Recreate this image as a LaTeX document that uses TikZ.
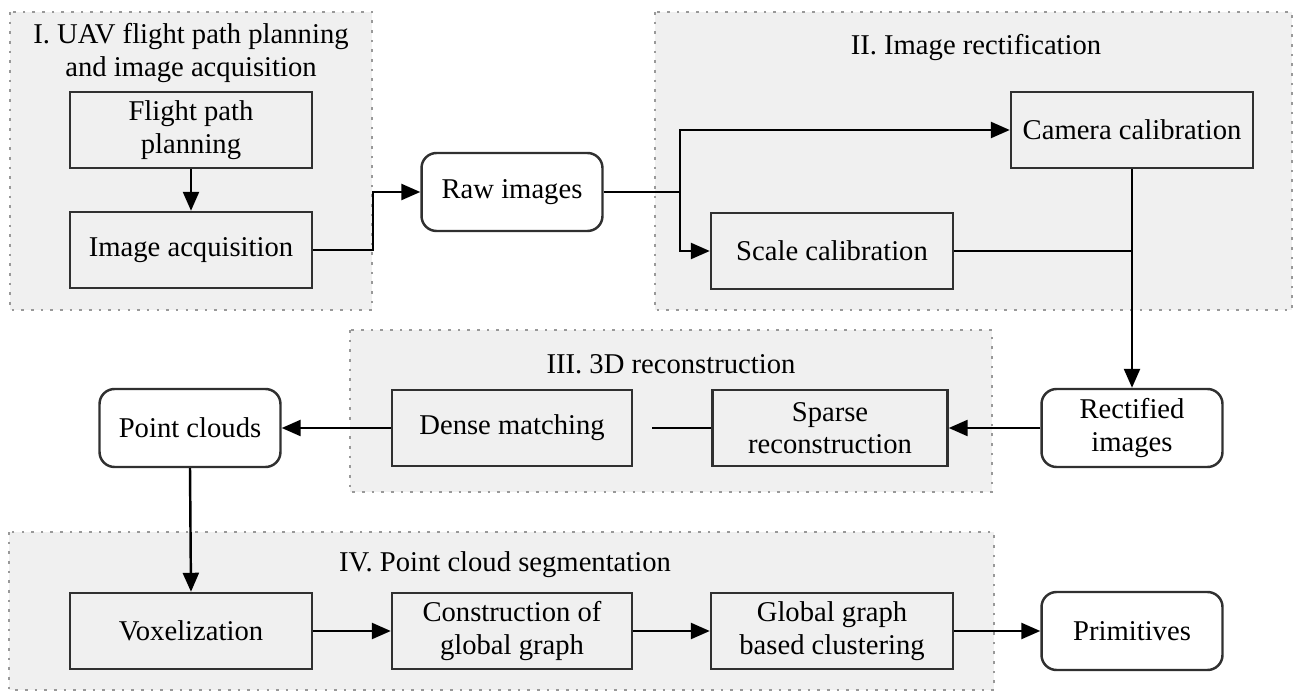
\documentclass[tikz,border=0pt]{standalone}
\usepackage{fontspec}
\setmainfont{Liberation Serif}
\usepackage{tikz}
\usetikzlibrary{arrows.meta, positioning, shapes.misc}

\definecolor{grpfill}{HTML}{F0F0F0}
\definecolor{boxline}{HTML}{303030}

\begin{document}
\begin{tikzpicture}[
      x=0.02cm, y=-0.02cm,
      font=\fontsize{16.3}{18.5}\selectfont,
      group/.style={draw=gray!80, fill=grpfill, line width=1.5pt, dash pattern=on 1.5pt off 4pt},
      stage/.style={draw=boxline, fill=grpfill, line width=1.4pt, minimum width=4.84cm, minimum height=1.52cm, align=center, inner sep=2pt},
      data/.style={draw=boxline, fill=white, line width=1.4pt, rounded corners=0.3cm, minimum width=3.62cm, minimum height=1.56cm, align=center, inner sep=2pt},
      title/.style={align=center},
      link/.style={draw=black, line width=1.4pt},
      arr/.style={link, -{Triangle[length=0.38cm, width=0.32cm]}}
    ]
      \useasboundingbox (0,0) rectangle (1301,695);

      % Stage frames
      \draw[group] (10,12) rectangle (372,310);
      \draw[group] (655,12) rectangle (1292,310);
      \draw[group] (350,330) rectangle (992,492);
      \draw[group] (9,532) rectangle (994,690);

      % Stage titles
      \node[title] (t1) at (191,53) {I. UAV flight path planning\\and image acquisition};
      \node[title] (t2) at (976,48) {II. Image rectification};
      \node[title] (t3) at (671,364) {III. 3D reconstruction};
      \node[title] (t4) at (505,565) {IV. Point cloud segmentation};

      % Stage I
      \node[stage] (flight) at (191,130) {Flight path\\planning};
      \node[stage] (acq) at (191,250) {Image acquisition};
      \node[data] (raw) at (512,192) {Raw images};

      % Stage II
      \node[stage] (cam) at (1132,130) {Camera calibration};
      \node[stage] (scale) at (832,251) {Scale calibration};
      \node[data] (rect) at (1132,428) {Rectified\\images};

      % Stage III
      \node[stage, minimum width=4.7cm] (sparse) at (830,428) {Sparse\\reconstruction};
      \node[stage, minimum width=4.8cm] (dense) at (512,428) {Dense matching};
      \node[data] (pc) at (190,428) {Point clouds};

      % Stage IV
      \node[stage] (vox) at (191,631) {Voxelization};
      \node[stage, minimum width=4.8cm] (cons) at (512,631) {Construction of\\global graph};
      \node[stage] (glob) at (832,631) {Global graph\\based clustering};
      \node[data] (prim) at (1132,631) {Primitives};

      % Connectors
      \coordinate (split) at (680,192);
      \draw[arr] (flight) -- (acq);
      \draw[arr] (acq.east) -- ++(60,0) |- (raw.west);
      \draw[link] (raw.east) -- (split);
      \draw[arr] (split) |- (cam.west);
      \draw[arr] (split) |- (scale.west);
      \draw[link] (scale.east) -- (cam.south |- scale.east);
      \draw[arr] (cam.south) -- (rect.north);
      \draw[arr] (rect.west) -- (sparse.east);
      \draw[link, shorten >=0.38cm] (sparse.west) -- (dense.east);
      \draw[arr] (dense.west) -- (pc.east);
      \draw[arr] (pc.south) -- (vox.north);
      \draw[arr] (vox) -- (cons);
      \draw[arr] (cons) -- (glob);
      \draw[arr] (glob) -- (prim);
    \end{tikzpicture}
\end{document}
